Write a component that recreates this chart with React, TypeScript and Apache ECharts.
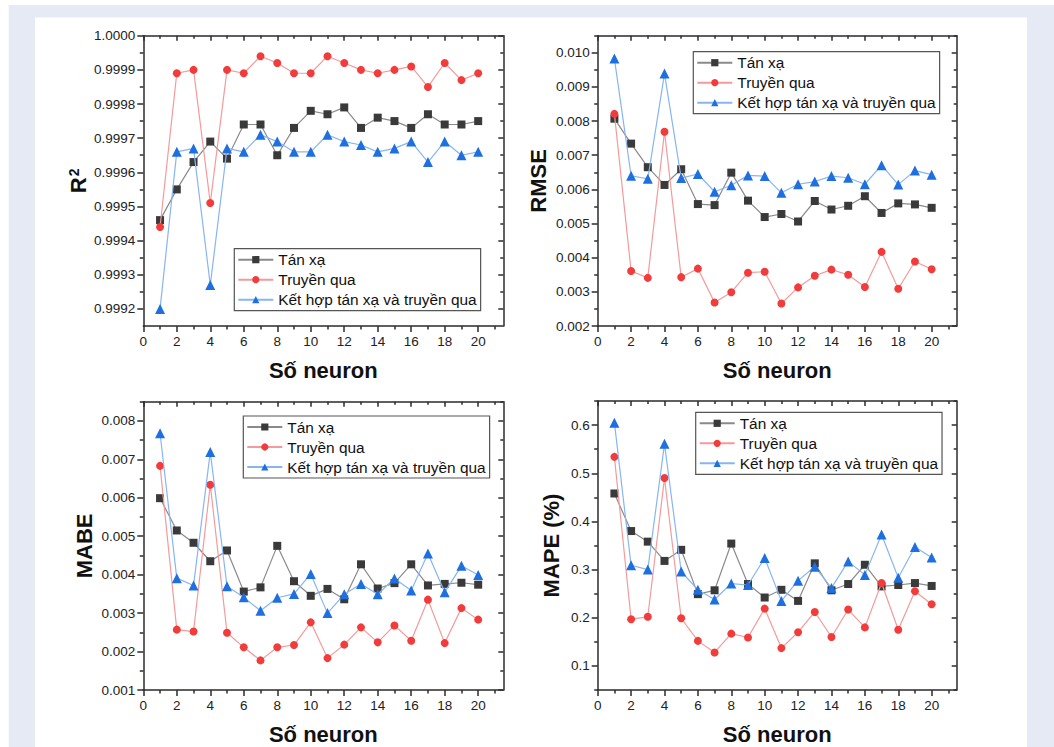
import React, { useEffect, useRef } from "react";
import * as echarts from "echarts";

// ---------- DATA ----------
const neurons = [1, 2, 3, 4, 5, 6, 7, 8, 9, 10, 11, 12, 13, 14, 15, 16, 17, 18, 19, 20];
const seriesNames = ["Tán xạ", "Truyền qua", "Kết hợp tán xạ và truyền qua"];

const r2TanXa = [0.99946, 0.99955, 0.99963, 0.99969, 0.99964, 0.99974, 0.99974, 0.99965, 0.99973, 0.99978, 0.99977, 0.99979, 0.99973, 0.99976, 0.99975, 0.99973, 0.99977, 0.99974, 0.99974, 0.99975];
const r2TruyenQua = [0.99944, 0.99989, 0.9999, 0.99951, 0.9999, 0.99989, 0.99994, 0.99992, 0.99989, 0.99989, 0.99994, 0.99992, 0.9999, 0.99989, 0.9999, 0.99991, 0.99985, 0.99992, 0.99987, 0.99989];
const r2KetHop = [0.9992, 0.99966, 0.99967, 0.99927, 0.99967, 0.99966, 0.99971, 0.99969, 0.99966, 0.99966, 0.99971, 0.99969, 0.99968, 0.99966, 0.99967, 0.99969, 0.99963, 0.99969, 0.99965, 0.99966];

const rmseTanXa = [0.00807, 0.00734, 0.00665, 0.00613, 0.00659, 0.00557, 0.00554, 0.00649, 0.00567, 0.00519, 0.00528, 0.00506, 0.00566, 0.00541, 0.00552, 0.0058, 0.00531, 0.00559, 0.00556, 0.00546];
const rmseTruyenQua = [0.00821, 0.00361, 0.00341, 0.00769, 0.00343, 0.00368, 0.00269, 0.00299, 0.00356, 0.00359, 0.00266, 0.00313, 0.00347, 0.00365, 0.0035, 0.00314, 0.00417, 0.00309, 0.00389, 0.00366];
const rmseKetHop = [0.00983, 0.0064, 0.00631, 0.00939, 0.00633, 0.00645, 0.00593, 0.00612, 0.00641, 0.00639, 0.0059, 0.00615, 0.00623, 0.00639, 0.00634, 0.00615, 0.00671, 0.00614, 0.00655, 0.00643];

const mabeTanXa = [0.00599, 0.00515, 0.00483, 0.00435, 0.00463, 0.00356, 0.00367, 0.00475, 0.00383, 0.00345, 0.00363, 0.00336, 0.00427, 0.00364, 0.00378, 0.00427, 0.00372, 0.00376, 0.00379, 0.00374];
const mabeTruyenQua = [0.00683, 0.00257, 0.00252, 0.00634, 0.00249, 0.00211, 0.00177, 0.00211, 0.00217, 0.00276, 0.00183, 0.00218, 0.00263, 0.00224, 0.00268, 0.00228, 0.00335, 0.00222, 0.00313, 0.00283];
const mabeKetHop = [0.00768, 0.00391, 0.00372, 0.00719, 0.0037, 0.00341, 0.00306, 0.0034, 0.0035, 0.00402, 0.003, 0.00349, 0.00376, 0.00349, 0.0039, 0.00359, 0.00455, 0.00354, 0.00423, 0.00399];

const mapeTanXa = [0.458, 0.38, 0.358, 0.318, 0.341, 0.249, 0.257, 0.354, 0.27, 0.242, 0.258, 0.235, 0.313, 0.257, 0.27, 0.31, 0.265, 0.268, 0.272, 0.266];
const mapeTruyenQua = [0.534, 0.197, 0.202, 0.49, 0.199, 0.152, 0.128, 0.167, 0.159, 0.219, 0.137, 0.17, 0.212, 0.16, 0.217, 0.18, 0.272, 0.175, 0.255, 0.228];
const mapeKetHop = [0.605, 0.309, 0.3, 0.561, 0.296, 0.258, 0.238, 0.271, 0.268, 0.324, 0.235, 0.277, 0.306, 0.262, 0.317, 0.289, 0.373, 0.283, 0.347, 0.325];

// tick values
const xMajorTicks = [0, 2, 4, 6, 8, 10, 12, 14, 16, 18, 20];
const xMinorTicks = [1, 3, 5, 7, 9, 11, 13, 15, 17, 19, 21];
const r2MajorTicks = [0.9992, 0.9993, 0.9994, 0.9995, 0.9996, 0.9997, 0.9998, 0.9999, 1.0];
const r2MinorTicks = [0.99925, 0.99935, 0.99945, 0.99955, 0.99965, 0.99975, 0.99985, 0.99995];
const rmseMajorTicks = [0.002, 0.003, 0.004, 0.005, 0.006, 0.007, 0.008, 0.009, 0.01];
const rmseMinorTicks = [0.0025, 0.0035, 0.0045, 0.0055, 0.0065, 0.0075, 0.0085, 0.0095, 0.0105];
const mabeMajorTicks = [0.001, 0.002, 0.003, 0.004, 0.005, 0.006, 0.007, 0.008];
const mabeMinorTicks = [0.0015, 0.0025, 0.0035, 0.0045, 0.0055, 0.0065, 0.0075, 0.0085];
const mapeMajorTicks = [0.1, 0.2, 0.3, 0.4, 0.5, 0.6];
const mapeMinorTicks = [0.05, 0.15, 0.25, 0.35, 0.45, 0.55, 0.65];

// ---------- STYLE / LAYOUT ----------
const FONT = "'Liberation Sans', Arial, sans-serif";
const AXIS_COLOR = "#2b2b2b";
const seriesStyles = [
  { symbol: "rect", size: 8, marker: "#3a3a3a", line: "#8a8a8a" },
  { symbol: "circle", size: 8, marker: "#f23b3b", line: "#f59a9a" },
  { symbol: "triangle", size: 10, marker: "#1e6fe0", line: "#86b6f2" },
];

const panels = [
  {
    left: 143.3, top: 35.7, width: 360, height: 290.3,
    yMin: 0.99915, yMax: 1.0, major: r2MajorTicks, minor: r2MinorTicks, dec: 4,
    yName: "{a|R}{b|2}", yNameGap: 54,
    legendLeft: 234.3, legendTop: 248.7,
    values: [r2TanXa, r2TruyenQua, r2KetHop],
  },
  {
    left: 597.7, top: 35.7, width: 359, height: 290.3,
    yMin: 0.002, yMax: 0.0105, major: rmseMajorTicks, minor: rmseMinorTicks, dec: 3,
    yName: "{a|RMSE}", yNameGap: 48,
    legendLeft: 693.3, legendTop: 51.7,
    values: [rmseTanXa, rmseTruyenQua, rmseKetHop],
  },
  {
    left: 143.3, top: 401.7, width: 360, height: 288.3,
    yMin: 0.001, yMax: 0.0085, major: mabeMajorTicks, minor: mabeMinorTicks, dec: 3,
    yName: "{a|MABE}", yNameGap: 48,
    legendLeft: 243.3, legendTop: 416,
    values: [mabeTanXa, mabeTruyenQua, mabeKetHop],
  },
  {
    left: 597.7, top: 401, width: 359, height: 289,
    yMin: 0.05, yMax: 0.65, major: mapeMajorTicks, minor: mapeMinorTicks, dec: 1,
    yName: "{a|MAPE (%)}", yNameGap: 35,
    legendLeft: 695.7, legendTop: 412.3,
    values: [mapeTanXa, mapeTruyenQua, mapeKetHop],
  },
];

function buildOption() {
  const grid: any[] = [];
  const xAxis: any[] = [];
  const yAxis: any[] = [];
  const series: any[] = [];
  const legend: any[] = [];
  const lineStyle = { color: AXIS_COLOR, width: 1.5 };

  panels.forEach((p, g) => {
    grid.push({ left: p.left, top: p.top, width: p.width, height: p.height, containLabel: false });

    const xBase = { type: "value", gridIndex: g, min: 0, max: 21.5, splitLine: { show: false } };
    xAxis.push({
      ...xBase,
      position: "bottom",
      axisLine: { show: true, onZero: false, lineStyle },
      axisTick: { show: true, customValues: xMajorTicks, length: 6, lineStyle },
      axisLabel: { show: true, customValues: xMajorTicks, fontSize: 13.5, color: "#222", margin: 8, fontFamily: FONT },
      name: "Số neuron",
      nameLocation: "middle",
      nameGap: 33,
      nameTextStyle: { fontSize: 22, fontWeight: "bold", color: "#111", fontFamily: FONT },
    });
    xAxis.push({
      ...xBase,
      position: "bottom",
      axisLine: { show: false, onZero: false },
      axisTick: { show: true, customValues: xMinorTicks, length: 3.5, lineStyle },
      axisLabel: { show: false },
    });
    xAxis.push({
      ...xBase,
      position: "top",
      axisLine: { show: true, onZero: false, lineStyle },
      axisTick: { show: true, inside: true, customValues: xMajorTicks, length: 5, lineStyle },
      axisLabel: { show: false },
    });
    xAxis.push({
      ...xBase,
      position: "top",
      axisLine: { show: false, onZero: false },
      axisTick: { show: true, inside: true, customValues: xMinorTicks, length: 3, lineStyle },
      axisLabel: { show: false },
    });

    const yBase = { type: "value", gridIndex: g, min: p.yMin, max: p.yMax, splitLine: { show: false } };
    yAxis.push({
      ...yBase,
      position: "left",
      axisLine: { show: true, onZero: false, lineStyle },
      axisTick: { show: true, customValues: p.major, length: 6, lineStyle },
      axisLabel: {
        show: true,
        customValues: p.major,
        fontSize: 13.5,
        color: "#222",
        margin: 8,
        fontFamily: FONT,
        formatter: (v: number) => v.toFixed(p.dec),
      },
      name: p.yName,
      nameLocation: "middle",
      nameGap: p.yNameGap,
      nameRotate: 90,
      nameTextStyle: {
        color: "#111",
        fontFamily: FONT,
        rich: {
          a: { fontSize: 22, fontWeight: "bold", color: "#111", fontFamily: FONT },
          b: { fontSize: 14, fontWeight: "bold", color: "#111", fontFamily: FONT, verticalAlign: "top", padding: [0, 0, 8, 1] },
        },
      },
    });
    yAxis.push({
      ...yBase,
      position: "left",
      axisLine: { show: false, onZero: false },
      axisTick: { show: true, customValues: p.minor, length: 3.5, lineStyle },
      axisLabel: { show: false },
    });
    yAxis.push({
      ...yBase,
      position: "right",
      axisLine: { show: true, onZero: false, lineStyle },
      axisTick: { show: true, inside: true, customValues: p.major, length: 5, lineStyle },
      axisLabel: { show: false },
    });
    yAxis.push({
      ...yBase,
      position: "right",
      axisLine: { show: false, onZero: false },
      axisTick: { show: true, inside: true, customValues: p.minor, length: 3, lineStyle },
      axisLabel: { show: false },
    });

    seriesNames.forEach((name, si) => {
      const st = seriesStyles[si];
      series.push({
        type: "line",
        name,
        xAxisIndex: g * 4,
        yAxisIndex: g * 4,
        data: neurons.map((n, i) => [n, p.values[si][i]]),
        symbol: st.symbol,
        symbolSize: st.size,
        showSymbol: true,
        itemStyle: { color: st.marker, borderWidth: 0 },
        lineStyle: { color: st.line, width: 1.2 },
        emphasis: { disabled: true },
        z: 3 + si,
      });
    });

    legend.push({
      data: seriesNames,
      orient: "vertical",
      left: p.legendLeft,
      top: p.legendTop,
      padding: [2, 4, 2, 3],
      itemGap: 2,
      itemWidth: 35,
      itemHeight: 9,
      borderColor: "#555",
      borderWidth: 1.2,
      selectedMode: false,
      textStyle: { fontSize: 15.4, color: "#111", fontFamily: FONT, lineHeight: 18 },
    });
  });

  return {
    animation: false,
    backgroundColor: "#ffffff",
    textStyle: { fontFamily: FONT },
    graphic: [
      { type: "rect", z: -100, silent: true, shape: { x: 8.7, y: 5, width: 1054 - 8.7, height: 742 }, style: { fill: "#e6eaf5" } },
      { type: "rect", z: -99, silent: true, shape: { x: 35, y: 17.5, width: 992, height: 730 }, style: { fill: "#ffffff" } },
    ],
    grid,
    xAxis,
    yAxis,
    legend,
    series,
  };
}

export default function App() {
  const ref = useRef<HTMLDivElement>(null);
  useEffect(() => {
    if (!ref.current) return;
    const chart = echarts.init(ref.current, undefined, { renderer: "svg" });
    chart.setOption(buildOption() as any);
    return () => chart.dispose();
  }, []);
  return (
    <div
      ref={ref}
      style={{ position: "fixed", left: 0, top: 0, width: 1054, height: 747 }}
    />
  );
}
